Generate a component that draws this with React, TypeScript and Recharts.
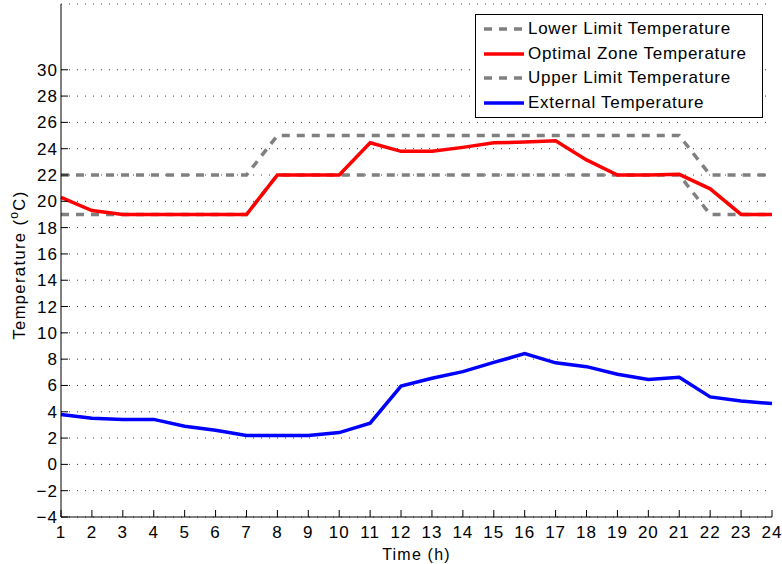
import { LineChart, Line, XAxis, YAxis, CartesianGrid } from "recharts";

// hourly profiles, h = 1..24
const hours = [1, 2, 3, 4, 5, 6, 7, 8, 9, 10, 11, 12, 13, 14, 15, 16, 17, 18, 19, 20, 21, 22, 23, 24];
const lowerLimit = [19, 19, 19, 19, 19, 19, 19, 22, 22, 22, 22, 22, 22, 22, 22, 22, 22, 22, 22, 22, 22, 19, 19, 19];
const upperLimit = [22, 22, 22, 22, 22, 22, 22, 25, 25, 25, 25, 25, 25, 25, 25, 25, 25, 25, 25, 25, 25, 22, 22, 22];
const optimalZone = [20.3, 19.3, 19, 19, 19, 19, 19, 22, 22, 22, 24.45, 23.8, 23.8, 24.1, 24.45, 24.5, 24.6, 23.15, 22, 22, 22.05, 20.95, 19, 19];
const external = [3.8, 3.5, 3.42, 3.42, 2.9, 2.6, 2.2, 2.2, 2.2, 2.42, 3.13, 5.95, 6.55, 7.05, 7.75, 8.42, 7.72, 7.43, 6.85, 6.45, 6.62, 5.13, 4.82, 4.62];
const yTicks = [-4, -2, 0, 2, 4, 6, 8, 10, 12, 14, 16, 18, 20, 22, 24, 26, 28, 30];

const data = hours.map((h, i) => ({
  hour: h,
  lower: lowerLimit[i],
  optimal: optimalZone[i],
  upper: upperLimit[i],
  external: external[i],
}));

const FONT = "'Liberation Sans', Arial, Helvetica, sans-serif";
const TICK = 7;
const LW = 3.5;

const legendItems = [
  { name: "Lower Limit Temperature", color: "#808080", dashed: true },
  { name: "Optimal Zone Temperature", color: "#ff0000", dashed: false },
  { name: "Upper Limit Temperature", color: "#808080", dashed: true },
  { name: "External Temperature", color: "#0000ff", dashed: false },
];

const BottomTick = (props: any) => {
  const { x, y, payload } = props;
  return (
    <g>
      <line x1={x} y1={y} x2={x} y2={y - TICK} stroke="#000" strokeWidth={1} />
      <text x={x} y={y + 21} textAnchor="middle" fontSize={17} letterSpacing={1} fontFamily={FONT} fill="#000">
        {payload.value}
      </text>
    </g>
  );
};

const TopTick = (props: any) => {
  const { x, y } = props;
  return <line x1={x} y1={y} x2={x} y2={y + TICK} stroke="#000" strokeWidth={1} />;
};

const LeftTick = (props: any) => {
  const { x, y, payload } = props;
  const v = payload.value;
  return (
    <g>
      <line x1={x} y1={y} x2={x + TICK} y2={y} stroke="#000" strokeWidth={1} />
      <text x={x - 3} y={y + 6} textAnchor="end" fontSize={17} letterSpacing={1} fontFamily={FONT} fill="#000">
        {v < 0 ? "\u2212" + Math.abs(v) : v}
      </text>
    </g>
  );
};

const RightTick = (props: any) => {
  const { x, y } = props;
  return <line x1={x} y1={y} x2={x - TICK} y2={y} stroke="#000" strokeWidth={1} />;
};

const YLabel = () => (
  <text
    x={0}
    y={0}
    transform="translate(25 265) rotate(-90)"
    textAnchor="middle"
    fontSize={16.5}
    letterSpacing={1.4}
    fontFamily={FONT}
    fill="#000"
  >
    Temperature (<tspan dy={-7} fontSize={12}>o</tspan>
    <tspan dy={7}>C)</tspan>
  </text>
);

const LegendBox = () => (
  <div
    style={{
      position: "absolute",
      left: 475,
      top: 14,
      width: 286,
      height: 102,
      border: "1px solid #000",
      background: "#fff",
      fontFamily: FONT,
      fontSize: 17,
      letterSpacing: 0.7,
    }}
  >
    {legendItems.map((it, i) => (
      <div key={i} style={{ display: "flex", alignItems: "center", height: 24.6, marginTop: i === 0 ? 2 : 0 }}>
        <svg width={40} height={10} style={{ marginLeft: 8, flex: "none" }}>
          <line
            x1={0}
            y1={5}
            x2={40}
            y2={5}
            stroke={it.color}
            strokeWidth={LW}
            strokeDasharray={it.dashed ? "8 7" : undefined}
          />
        </svg>
        <span style={{ marginLeft: 4, color: "#000", whiteSpace: "nowrap" }}>{it.name}</span>
      </div>
    ))}
  </div>
);

export default function App() {
  return (
    <div style={{ position: "absolute", left: 0, top: 0, width: 782, height: 564, background: "#fff" }}>
      <LineChart width={782} height={564} data={data} margin={{ top: 4, right: 10, left: 0, bottom: 0 }}>
        <CartesianGrid vertical={false} stroke="#3a3a3a" strokeDasharray="1 7" />
        <XAxis
          dataKey="hour"
          type="number"
          domain={[1, 24]}
          ticks={hours}
          interval={0}
          height={47}
          tickSize={0}
          tickMargin={0}
          tickLine={false}
          axisLine={{ stroke: "#000", strokeWidth: 1 }}
          tick={<BottomTick />}
          label={{
            value: "Time (h)",
            position: "insideBottom",
            offset: 4,
            fontSize: 16,
            letterSpacing: 1.2,
            fontFamily: FONT,
            fill: "#000",
          }}
        />
        <XAxis
          xAxisId="top"
          orientation="top"
          dataKey="hour"
          type="number"
          domain={[1, 24]}
          ticks={hours}
          interval={0}
          height={0}
          tickSize={0}
          tickMargin={0}
          tickLine={false}
          axisLine={{ stroke: "#000", strokeWidth: 1 }}
          tick={<TopTick />}
        />
        <YAxis
          type="number"
          domain={[-4, 35]}
          ticks={yTicks}
          interval={0}
          width={61}
          tickSize={0}
          tickMargin={0}
          tickLine={false}
          axisLine={{ stroke: "#000", strokeWidth: 1 }}
          tick={<LeftTick />}
          label={<YLabel />}
        />
        <YAxis
          yAxisId="right"
          orientation="right"
          type="number"
          domain={[-4, 35]}
          ticks={yTicks}
          interval={0}
          width={0}
          tickSize={0}
          tickMargin={0}
          tickLine={false}
          axisLine={{ stroke: "#000", strokeWidth: 1 }}
          tick={<RightTick />}
        />
        <Line
          dataKey="lower"
          name="Lower Limit Temperature"
          stroke="#808080"
          strokeWidth={LW}
          strokeDasharray="8 7"
          dot={false}
          activeDot={false}
          isAnimationActive={false}
        />
        <Line
          dataKey="optimal"
          name="Optimal Zone Temperature"
          stroke="#ff0000"
          strokeWidth={LW}
          dot={false}
          activeDot={false}
          isAnimationActive={false}
        />
        <Line
          dataKey="upper"
          name="Upper Limit Temperature"
          stroke="#808080"
          strokeWidth={LW}
          strokeDasharray="8 7"
          dot={false}
          activeDot={false}
          isAnimationActive={false}
        />
        <Line
          dataKey="external"
          name="External Temperature"
          stroke="#0000ff"
          strokeWidth={LW}
          dot={false}
          activeDot={false}
          isAnimationActive={false}
        />
      </LineChart>
      <LegendBox />
    </div>
  );
}
